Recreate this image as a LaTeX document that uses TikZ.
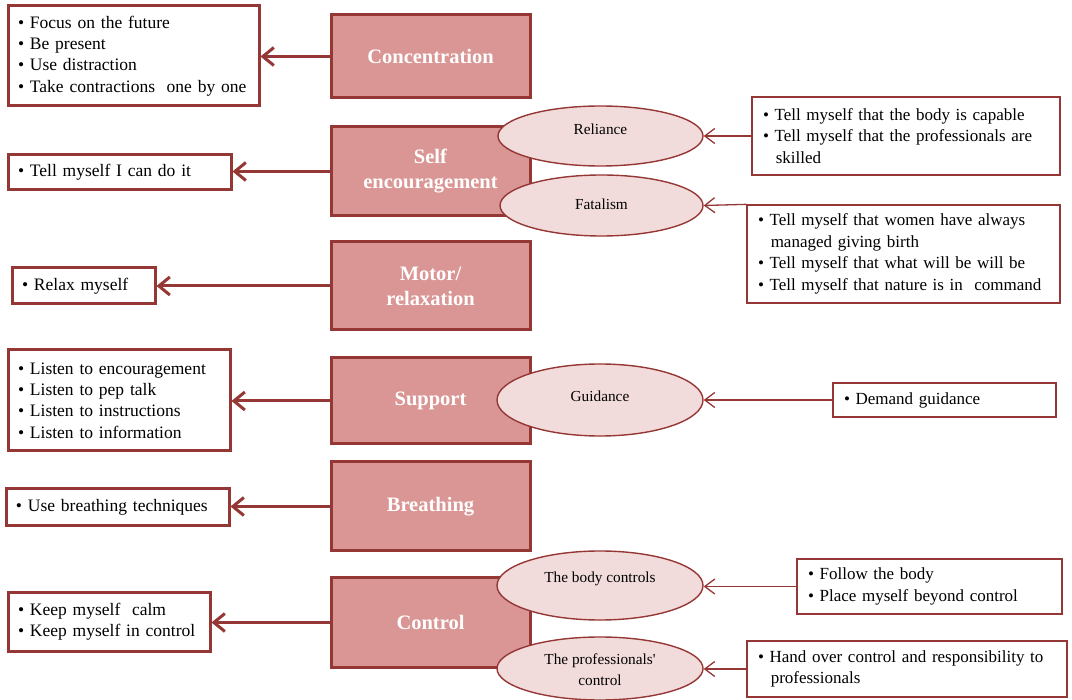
\documentclass[tikz,border=0pt]{standalone}
\usepackage{fontspec}
\setmainfont{Liberation Serif}
\usetikzlibrary{arrows.meta,shapes.geometric}
\definecolor{dred}{HTML}{953735}
\definecolor{cfill}{HTML}{D99694}
\definecolor{efill}{HTML}{F2DCDB}
\newcommand{\bl}{\textbullet\ }
\newcommand{\ind}{\hspace*{0.75em}}
\tikzset{
  cbox/.style={draw=dred, fill=cfill, line width=3pt, minimum width=199pt, text=white,
    font=\fontsize{20.5}{25}\selectfont\bfseries, align=center, inner sep=0pt},
  lbox/.style={draw=dred, fill=white, line width=3pt, align=left, inner xsep=10pt, inner ysep=0pt,
    font=\fontsize{17.5}{21.3}\selectfont},
  rbox/.style={draw=dred, fill=white, line width=1.3pt, align=left, inner xsep=11pt, inner ysep=0pt,
    font=\fontsize{17}{21.5}\selectfont},
  ell/.style={ellipse, draw=dred, fill=efill, line width=1.4pt, inner sep=0pt},
  elltext/.style={align=center, font=\fontsize{15.3}{21}\selectfont, inner sep=0pt},
  larrow/.style={draw=dred, line width=3pt, -{Straight Barb[length=11pt,width=18pt,line width=3pt]}},
  rarrow/.style={draw=dred, line width=1.3pt, -{Straight Barb[length=10pt,width=15pt,line width=1.3pt]}}
}
\begin{document}
\begin{tikzpicture}[x=1pt,y=-1pt]
\useasboundingbox (0,0) rectangle (1072,700);
% central boxes
\node[cbox, minimum height=83pt] (conc) at (430.5,56.5) {Concentration};
\node[cbox, minimum height=89pt] (self) at (430.5,171.5) {Self\\encouragement};
\node[cbox, minimum height=88pt] (motor) at (430.5,286) {Motor/\\relaxation};
\node[cbox, minimum height=86pt] (supp) at (430.5,401) {Support};
\node[cbox, minimum height=89pt] (breath) at (430.5,506.5) {Breathing};
\node[cbox, minimum height=89pt] (ctrl) at (430.5,622.5) {Control};
% left boxes
\node[lbox, text width=231pt, minimum height=100pt] (l1) at (133.5,56) {\bl Focus on the future\\\bl Be present\\\bl Use distraction\\\bl Take contractions~ one by one};
\node[lbox, text width=203pt, minimum height=35pt] (l2) at (119.5,172.5) {\bl Tell myself I can do it};
\node[lbox, text width=123pt, minimum height=36pt] (l3) at (83.5,286) {\bl Relax myself};
\node[lbox, text width=202pt, minimum height=101pt] (l4) at (119,400.5) {\bl Listen to encouragement\\\bl Listen to pep talk\\\bl Listen to instructions\\\bl Listen to information};
\node[lbox, text width=203pt, minimum height=37pt] (l5) at (117.5,507.5) {\bl Use breathing techniques};
\node[lbox, text width=182pt, minimum height=58pt] (l6) at (109,622) {\bl Keep myself~ calm\\\bl Keep myself in control};
% ellipses
\node[ell, minimum width=205pt, minimum height=60pt, label={[elltext, yshift=7pt]center:Reliance}] (e1) at (600.5,136) {};
\node[ell, minimum width=203pt, minimum height=61pt, label={[elltext, yshift=1.5pt]center:Fatalism}] (e2) at (601.5,205.5) {};
\node[ell, minimum width=206pt, minimum height=72pt, label={[elltext, yshift=4pt]center:Guidance}] (e3) at (600,400) {};
\node[ell, minimum width=206pt, minimum height=69pt, label={[elltext, yshift=6.5pt]center:The body controls}] (e4) at (600,585.5) {};
\node[ell, minimum width=206pt, minimum height=63pt, label={[elltext, yshift=-1pt]center:The professionals\textquotesingle\\control}] (e5) at (600,668.5) {};
% right boxes
\node[rbox, text width=286pt, minimum height=78pt] (r1) at (906,136) {\bl Tell myself that the body is capable\\\bl Tell myself that the professionals are\\\ind skilled};
\node[rbox, text width=291pt, minimum height=98pt] (r2) at (903.5,254) {\bl Tell myself that women have always\\\ind managed giving birth\\\bl Tell myself that what will be will be\\\bl Tell myself that nature is in~ command};
\node[rbox, text width=201pt, minimum height=34pt] (r3) at (944.5,400) {\bl Demand guidance};
\node[rbox, text width=243pt, minimum height=55pt] (r4) at (929.5,586.5) {\bl Follow the body\\\bl Place myself beyond control};
\node[rbox, text width=298pt, minimum height=56pt] (r5) at (907,669) {\bl Hand over control and responsibility to\\\ind professionals};
% left arrows
\draw[larrow] (conc.west) -- (conc.west -| l1.east);
\draw[larrow] (self.west) -- (self.west -| l2.east);
\draw[larrow] (motor.west) -- (motor.west -| l3.east);
\draw[larrow] (supp.west) -- (supp.west -| l4.east);
\draw[larrow] (breath.west) -- (breath.west -| l5.east);
\draw[larrow] (ctrl.west) -- (ctrl.west -| l6.east);
% right arrows
\draw[rarrow] (r1.west) -- (r1.west -| e1.east);
\draw[rarrow] (r2.north west) -- (e2.east);
\draw[rarrow] (r3.west) -- (r3.west -| e3.east);
\draw[rarrow] (r4.west) -- (r4.west -| e4.east);
\draw[rarrow] (r5.west) -- (r5.west -| e5.east);
\end{tikzpicture}
\end{document}
